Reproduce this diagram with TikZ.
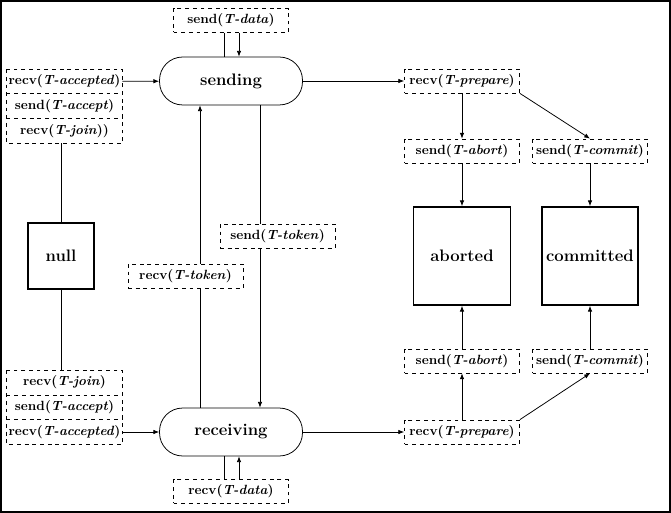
\documentclass[tikz,border=0pt]{standalone}
\usetikzlibrary{positioning,arrows.meta}
\tikzset{
  msgtext/.style={minimum width=89.7pt,minimum height=18.7pt,inner sep=1pt,font=\fontsize{10.4}{12}\selectfont\bfseries},
  msg/.style={msgtext,draw,dashed},
  phase/.style={draw,rounded corners=18pt,minimum width=111.5pt,minimum height=37.4pt,font=\fontsize{13}{15}\selectfont\bfseries},
  final/.style={draw,line width=1.3pt,font=\fontsize{13}{15}\selectfont\bfseries},
  >={Latex[length=4.5pt,width=3.5pt]}
}
\newcommand{\tmsg}[2]{#1(\textit{T-#2})}
\begin{document}
\begin{tikzpicture}[x=0.78pt,y=-0.78pt,semithick]
\useasboundingbox (0,0) rectangle (671,513);
\draw[line width=1.5pt] (1,1) rectangle (670,512);
% states
\node[phase] (sending) at (231,81) {sending};
\node[phase] (receiving) at (231,432) {receiving};
\node[final,minimum size=51.5pt] (null) at (61,256) {null};
\node[final,minimum width=75.7pt,minimum height=76.4pt] (aborted) at (462,256) {aborted};
\node[final,minimum width=75pt,minimum height=76.4pt] (committed) at (590,256) {committed};
% messages
\node[msg] (tdata) at (231,20.5) {\tmsg{send}{data}};
\node[msg] (rdata) at (231,491.5) {\tmsg{recv}{data}};
\node[msgtext] (accepted1) at (64.5,81.5) {\tmsg{recv}{accepted}};
\node[msgtext,below=0pt of accepted1] (accept1) {\tmsg{send}{accept}};
\node[msgtext,below=0pt of accept1] (join1) {\tmsg{recv}{join})};
\draw[dashed] (accepted1.north west) rectangle (join1.south east)
  (accept1.north west) -- (accept1.north east)
  (accept1.south west) -- (accept1.south east);
\node[msgtext] (accepted2) at (64.5,432) {\tmsg{recv}{accepted}};
\node[msgtext,above=0pt of accepted2] (accept2) {\tmsg{send}{accept}};
\node[msgtext,above=0pt of accept2] (join2) {\tmsg{recv}{join}};
\draw[dashed] (join2.north west) rectangle (accepted2.south east)
  (accept2.north west) -- (accept2.north east)
  (accept2.south west) -- (accept2.south east);
\node[msg] (stoken) at (277.5,236) {\tmsg{send}{token}};
\node[msg] (rtoken) at (185.5,276) {\tmsg{recv}{token}};
\node[msg] (prep1) at (462,81) {\tmsg{recv}{prepare}};
\node[msg] (abort1) at (462,151) {\tmsg{send}{abort}};
\node[msg] (commit1) at (590,151) {\tmsg{send}{commit}};
\node[msg] (abort2) at (462,361) {\tmsg{send}{abort}};
\node[msg] (commit2) at (590,361) {\tmsg{send}{commit}};
\node[msg] (prep2) at (462,432) {\tmsg{recv}{prepare}};
% connectors
\draw (tdata.south -| 224,0) -- (sending.north -| 224,0);
\draw[->] (tdata.south -| 239,0) -- (sending.north -| 239,0);
\draw (rdata.north -| 224,0) -- (receiving.south -| 224,0);
\draw[->] (rdata.north -| 239,0) -- (receiving.south -| 239,0);
\draw[->] (accepted1) -- (sending);
\draw (join1.south -| null) -- (null);
\draw (null) -- (join2.north -| null);
\draw[->] (accepted2) -- (receiving);
\draw (sending.south -| 260,0) -- (stoken.north -| 260,0);
\draw[->] (stoken.south -| 260,0) -- (receiving.north -| 260,0);
\draw (receiving.north -| 200,0) -- (rtoken.south -| 200,0);
\draw[->] (rtoken.north -| 200,0) -- (sending.south -| 200,0);
\draw[->] (sending) -- (prep1);
\draw[->] (prep1) -- (abort1);
\draw[->] (prep1.south east) -- (commit1.north);
\draw[->] (abort1) -- (aborted);
\draw[->] (commit1) -- (committed);
\draw[->] (receiving) -- (prep2);
\draw[->] (prep2) -- (abort2);
\draw[->] (prep2.north east) -- (commit2.south);
\draw[->] (abort2) -- (aborted);
\draw[->] (commit2) -- (committed);
\end{tikzpicture}
\end{document}
